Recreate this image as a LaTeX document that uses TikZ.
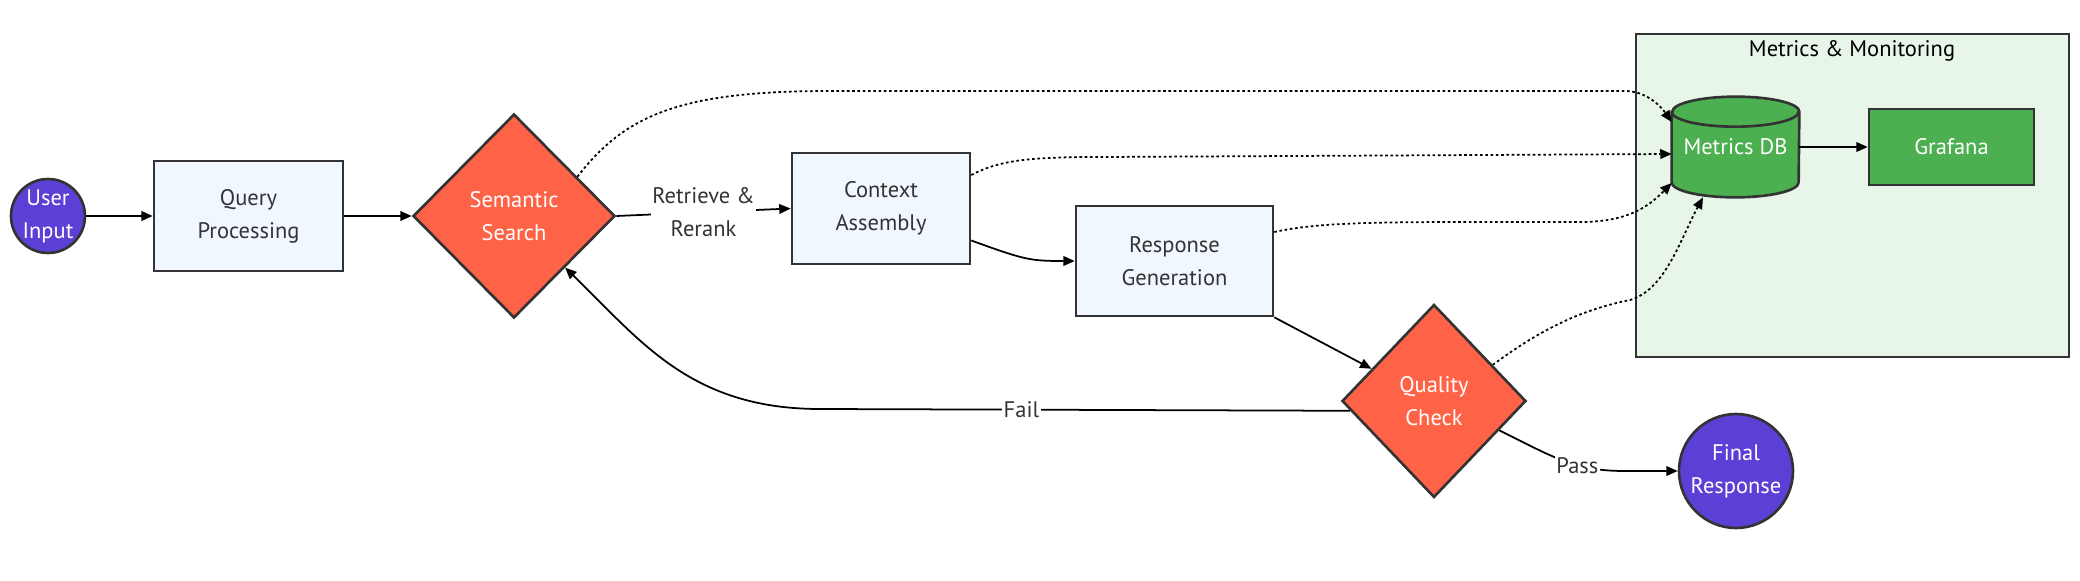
\documentclass[tikz,border=0pt]{standalone}
\usepackage{fontspec}
\setmainfont{PT Sans}
\usetikzlibrary{shapes.geometric, arrows.meta, calc}

\definecolor{procfill}{HTML}{F0F7FF}
\definecolor{decfill}{HTML}{FF6347}
\definecolor{termfill}{HTML}{5C3FD4}
\definecolor{monfill}{HTML}{4CAF50}
\definecolor{clusterfill}{HTML}{E8F5E9}
\definecolor{linegray}{HTML}{333333}

\tikzset{
    every node/.style={font=\fontsize{12.8}{18.8}\selectfont, align=center},
    process/.style={draw=linegray, line width=1.5pt, fill=procfill, text=linegray},
    decision/.style={diamond, draw=linegray, line width=1.5pt, fill=decfill, text=white, inner sep=0pt},
    terminal/.style={circle, draw=linegray, line width=1.5pt, fill=termfill, text=white, inner sep=0pt},
    monitor/.style={draw=linegray, line width=1.5pt, fill=monfill, text=white},
    dbbody/.style={draw=linegray, line width=1.5pt, fill=monfill},
    cluster/.style={draw=linegray, line width=1.5pt, fill=clusterfill},
    edge/.style={draw=black, line width=1pt, -{Triangle[length=6.5pt, width=5.5pt]}},
    dotedge/.style={edge, dash pattern=on 1.5pt off 1.5pt},
    edgelabel/.style={fill=white, text=linegray, inner sep=1pt}
}

\begin{document}
\begin{tikzpicture}[x=0.02cm, y=-0.02cm]
    \useasboundingbox (0,0) rectangle (2080,581);

    % Monitoring group
    \node[cluster, minimum width=8.66cm, minimum height=6.46cm] (monbox) at (1852.5,195.5) {};
    \node (montitle) at (1852,51) {Metrics \& Monitoring};

    % Main pipeline
    \node[terminal, minimum size=1.48cm] (input) at (48,216) {User\\Input};
    \node[process, minimum width=3.78cm, minimum height=2.2cm] (query) at (248.5,216) {Query\\Processing};
    \node[decision, minimum width=4.04cm, minimum height=4.08cm] (search) at (514,216) {Semantic\\Search};
    \node[process, minimum width=3.56cm, minimum height=2.22cm] (context) at (881,208.5) {Context\\Assembly};
    \node[process, minimum width=3.94cm, minimum height=2.2cm] (response) at (1174.5,261) {Response\\Generation};
    \node[decision, minimum width=3.68cm, minimum height=3.86cm] (quality) at (1434,401) {Quality\\Check};
    \node[terminal, minimum size=2.28cm] (final) at (1736,471) {Final\\Response};

    % Metrics DB cylinder
    \node[minimum width=2.54cm, minimum height=2cm, inner sep=0pt] (db) at (1735.5,147) {};
    \draw[dbbody] ([yshift=-0.3cm]db.north west) -- ([yshift=0.3cm]db.south west)
        arc[start angle=180, end angle=360, x radius=1.27cm, y radius=0.3cm]
        -- ([yshift=-0.3cm]db.north east)
        arc[start angle=0, end angle=180, x radius=1.27cm, y radius=0.3cm] -- cycle;
    \draw[dbbody, fill=none] ([yshift=-0.3cm]db.north west) arc[start angle=180, end angle=360, x radius=1.27cm, y radius=0.3cm];
    \node[text=white] (dblabel) at (db) {Metrics DB};
    \node[monitor, minimum width=3.3cm, minimum height=1.52cm] (grafana) at (1951.5,147) {Grafana};

    % Pipeline edges
    \draw[edge] (input) -- (query);
    \draw[edge] (query) -- (search);
    \draw[edge] (search.east) -- (context.west) node[midway, edgelabel] {Retrieve \&\\Rerank};
    \draw[edge] ([yshift=-0.64cm]context.east) .. controls (1025,260) and (1030,261) .. (response.west);
    \draw[edge] (response.south east) -- ($(quality.west)!0.33!(quality.north)$);
    \draw[edge] ($(quality.east)!0.3!(quality.south)$) .. controls (1555,458) and (1575,471) .. (1625,471) node[pos=0.62, edgelabel] {Pass} -- (final.west);
    \draw[edge] ($(quality.west)!0.1!(quality.south)$) -- (820,409) node[pos=0.62, edgelabel] {Fail} .. controls (690,409) and (640,340) .. ($(search.east)!0.5!(search.south)$);
    \draw[edge] (db) -- (grafana);

    % Metrics edges (dotted)
    \draw[dotedge] ($(search.north)!0.62!(search.east)$) .. controls (625,115) and (680,91) .. (830,91) -- (1625,91) .. controls (1645,91) and (1660,105) .. ([yshift=0.5cm]db.west);
    \draw[dotedge] ([yshift=0.67cm]context.east) .. controls (1000,160) and (1030,157) .. (1100,157) -- ([yshift=-0.14cm]db.west);
    \draw[dotedge] ([yshift=0.58cm]response.east) .. controls (1320,222) and (1380,222) .. (1500,222) -- (1580,222) .. controls (1630,222) and (1650,205) .. ([yshift=-0.72cm]db.west);
    \draw[dotedge] ($(quality.north)!0.63!(quality.east)$) .. controls (1540,330) and (1580,310) .. (1630,300) .. controls (1665,290) and (1680,240) .. ([xshift=-0.65cm]db.south);
\end{tikzpicture}
\end{document}
